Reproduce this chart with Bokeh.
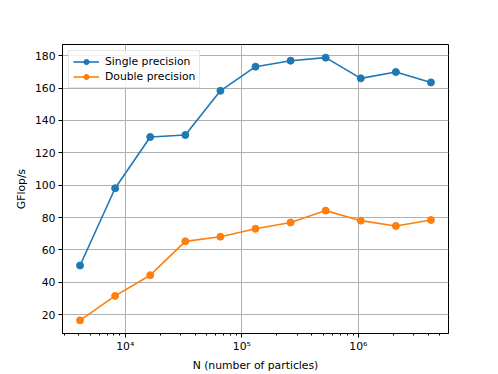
import numpy as np
from bokeh.plotting import figure
from bokeh.models import Range1d, FixedTicker, Legend, LegendItem
from bokeh.embed import file_html
from bokeh.resources import INLINE

n_particles = [4096, 8192, 16384, 32768, 65536, 131072, 262144, 524288, 1048576, 2097152, 4194304]
single_gflops = [50.4, 98.1, 129.8, 131.0, 158.3, 173.2, 176.9, 178.8, 166.0, 169.9, 163.5]
double_gflops = [16.5, 31.6, 44.4, 65.3, 68.2, 73.1, 77.0, 84.3, 78.1, 74.8, 78.5]
y_ticks = [20, 40, 60, 80, 100, 120, 140, 160, 180]
x_major = [1e4, 1e5, 1e6]
x_labels = ["10⁴", "10⁵", "10⁶"]

FONT = "DejaVu Sans"
FS = "10.8px"

# ranges with matplotlib-like 5% margins
lx = np.log10(n_particles)
dx = (lx.max() - lx.min()) * 0.05
x0, x1 = 10 ** (lx.min() - dx), 10 ** (lx.max() + dx)
allv = single_gflops + double_gflops
dy = (max(allv) - min(allv)) * 0.05
y0, y1 = min(allv) - dy, max(allv) + dy

p = figure(width=498, height=374, x_axis_type="log", output_backend="svg",
           toolbar_location=None, x_range=Range1d(x0, x1), y_range=Range1d(y0, y1),
           min_border_left=62, min_border_top=44, min_border_right=50, min_border_bottom=41)
p.background_fill_color = "white"
p.border_fill_color = "white"
p.outline_line_color = "black"
p.outline_line_width = 1

minor = [m * 10 ** e for e in range(3, 7) for m in range(2, 10)]
p.xaxis.ticker = FixedTicker(ticks=x_major, minor_ticks=minor)
p.xaxis.major_label_overrides = {t: l for t, l in zip(x_major, x_labels)}
p.yaxis.ticker = FixedTicker(ticks=y_ticks)

for ax in (p.xaxis[0], p.yaxis[0]):
    ax.major_label_text_font = FONT
    ax.major_label_text_font_size = FS
    ax.major_label_text_color = "black"
    ax.axis_label_text_font = FONT
    ax.axis_label_text_font_size = FS
    ax.axis_label_text_font_style = "normal"
    ax.axis_label_text_color = "black"
    ax.axis_line_color = "black"
    ax.axis_line_width = 1
    ax.major_tick_line_color = "black"
    ax.minor_tick_line_color = "black"
    ax.major_tick_out = 4
    ax.major_tick_in = 0
    ax.minor_tick_out = 2
    ax.minor_tick_in = 0
    ax.major_label_standoff = 3
    ax.axis_label_standoff = 4

p.xaxis.major_label_standoff = 2
p.xaxis.axis_label_standoff = 3
p.yaxis.axis_label_standoff = 4
p.yaxis.minor_tick_line_color = None
p.xaxis.axis_label = "N (number of particles)"
p.yaxis.axis_label = "GFlop/s"

for g in (p.xgrid[0], p.ygrid[0]):
    g.grid_line_color = "#b0b0b0"
    g.grid_line_width = 1

c1, c2 = "#1f77b4", "#ff7f0e"
l1 = p.line(n_particles, single_gflops, line_color=c1, line_width=1.6)
s1 = p.scatter(n_particles, single_gflops, size=7, fill_color=c1, line_color=c1)
l2 = p.line(n_particles, double_gflops, line_color=c2, line_width=1.6)
s2 = p.scatter(n_particles, double_gflops, size=7, fill_color=c2, line_color=c2)

legend = Legend(items=[LegendItem(label="Single precision", renderers=[l1, s1]),
                       LegendItem(label="Double precision", renderers=[l2, s2])],
                location="top_left")
legend.label_text_font = FONT
legend.label_text_font_size = FS
legend.label_text_color = "black"
legend.border_line_color = "#cccccc"
legend.border_line_width = 1
legend.background_fill_alpha = 0.8
legend.margin = 6
legend.padding = 4
legend.spacing = 2
legend.glyph_width = 26
legend.glyph_height = 13
legend.label_height = 13
legend.label_standoff = 6
p.add_layout(legend)

open("out.html", "w").write(file_html(p, INLINE))
